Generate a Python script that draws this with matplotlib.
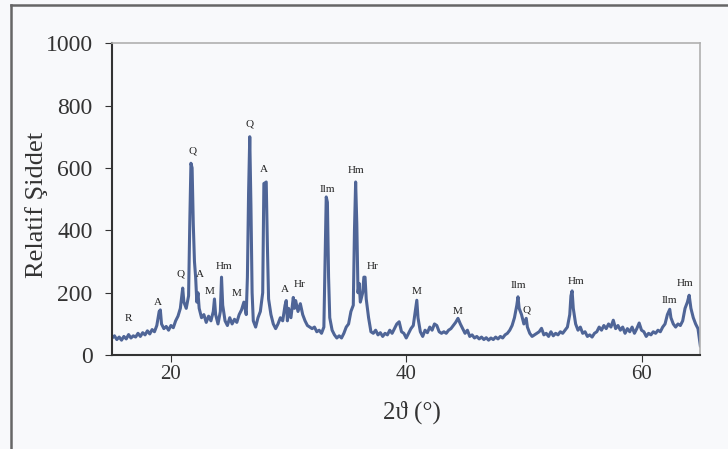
import numpy as np
import matplotlib
matplotlib.use('Agg')
import matplotlib.pyplot as plt
from matplotlib.lines import Line2D

# XRD pattern (2theta, relative intensity)
two_theta = [15.0, 15.2, 15.4, 15.6, 15.8, 16.0, 16.2, 16.4, 16.6, 16.8,
             17.0, 17.2, 17.4, 17.6, 17.8, 18.0, 18.2, 18.4, 18.6, 18.8,
             19.0, 19.1, 19.2, 19.4, 19.6, 19.8, 20.0, 20.2, 20.4, 20.6,
             20.8, 21.0, 21.1, 21.3, 21.5, 21.6, 21.7, 21.8, 21.9, 22.0,
             22.1, 22.2, 22.3, 22.4, 22.6, 22.8, 23.0, 23.2, 23.4, 23.6,
             23.7, 23.8, 24.0, 24.2, 24.3, 24.4, 24.6, 24.8, 25.0, 25.2,
             25.4, 25.6, 25.8, 26.0, 26.2, 26.4, 26.5, 26.6, 26.7, 26.8,
             26.9, 27.0, 27.2, 27.4, 27.6, 27.8, 27.9, 28.0, 28.1, 28.2,
             28.3, 28.5, 28.7, 28.9, 29.1, 29.3, 29.5, 29.7, 29.8, 29.9,
             30.0, 30.2, 30.4, 30.5, 30.6, 30.8, 31.0, 31.2, 31.4, 31.6,
             31.8, 32.0, 32.2, 32.4, 32.6, 32.8, 33.0, 33.1, 33.2, 33.3,
             33.4, 33.5, 33.7, 33.9, 34.1, 34.3, 34.5, 34.7, 34.9, 35.1,
             35.3, 35.5, 35.6, 35.7, 35.8, 35.9, 36.0, 36.1, 36.3, 36.4,
             36.5, 36.6, 36.8, 37.0, 37.2, 37.4, 37.6, 37.8, 38.0, 38.2,
             38.4, 38.6, 38.8, 39.0, 39.2, 39.4, 39.6, 39.8, 40.0, 40.2,
             40.4, 40.6, 40.8, 40.9, 41.0, 41.2, 41.4, 41.6, 41.8, 42.0,
             42.2, 42.4, 42.6, 42.8, 43.0, 43.2, 43.4, 43.6, 43.8, 44.0,
             44.2, 44.4, 44.6, 44.8, 45.0, 45.2, 45.4, 45.6, 45.8, 46.0,
             46.2, 46.4, 46.6, 46.8, 47.0, 47.2, 47.4, 47.6, 47.8, 48.0,
             48.2, 48.4, 48.6, 48.8, 49.0, 49.2, 49.4, 49.5, 49.6, 49.8,
             50.0, 50.2, 50.3, 50.5, 50.7, 50.9, 51.1, 51.3, 51.5, 51.7,
             51.9, 52.1, 52.3, 52.5, 52.7, 52.9, 53.1, 53.3, 53.5, 53.7,
             53.9, 54.0, 54.1, 54.2, 54.4, 54.6, 54.8, 55.0, 55.2, 55.4,
             55.6, 55.8, 56.0, 56.2, 56.4, 56.6, 56.8, 57.0, 57.2, 57.4,
             57.6, 57.8, 58.0, 58.2, 58.4, 58.6, 58.8, 59.0, 59.2, 59.4,
             59.6, 59.8, 60.0, 60.2, 60.4, 60.6, 60.8, 61.0, 61.2, 61.4,
             61.6, 61.8, 62.0, 62.2, 62.4, 62.5, 62.7, 62.9, 63.1, 63.3,
             63.5, 63.7, 63.9, 64.05, 64.2, 64.4, 64.6, 64.8, 65.0]
intensity = [55, 62, 50, 58, 48, 60, 52, 66, 55, 62,
             58, 70, 60, 72, 65, 78, 68, 82, 75, 95,
             140, 145, 100, 85, 92, 80, 95, 88, 110, 125,
             150, 215, 170, 150, 190, 420, 615, 600, 420, 300,
             250, 170, 200, 150, 120, 130, 105, 125, 110, 140,
             180, 130, 100, 140, 250, 160, 110, 95, 120, 100,
             115, 105, 130, 145, 170, 130, 250, 520, 700, 480,
             200, 110, 90, 120, 140, 200, 550, 552, 555, 350,
             180, 130, 100, 85, 100, 120, 110, 160, 175, 110,
             150, 120, 185, 150, 175, 140, 165, 130, 110, 95,
             90, 85, 90, 75, 80, 70, 90, 300, 507, 490,
             250, 120, 80, 65, 55, 62, 55, 70, 90, 100,
             140, 160, 400, 555, 420, 200, 230, 170, 200, 250,
             250, 180, 120, 75, 70, 80, 65, 72, 60, 70,
             65, 80, 70, 85, 100, 107, 75, 70, 55, 70,
             85, 95, 150, 176, 120, 75, 60, 80, 72, 90,
             80, 100, 95, 75, 70, 75, 70, 80, 85, 95,
             105, 118, 100, 85, 70, 80, 60, 65, 55, 60,
             52, 58, 50, 56, 48, 55, 50, 58, 52, 60,
             55, 65, 70, 80, 95, 120, 160, 187, 150, 130,
             100, 118, 90, 70, 60, 65, 70, 75, 86, 65,
             70, 60, 75, 62, 70, 65, 75, 70, 80, 90,
             130, 190, 206, 150, 100, 80, 90, 70, 75, 60,
             65, 58, 70, 75, 90, 80, 95, 85, 100, 90,
             112, 85, 95, 80, 90, 70, 85, 75, 90, 70,
             85, 103, 80, 75, 60, 70, 65, 75, 70, 80,
             75, 90, 100, 130, 147, 120, 100, 90, 100, 95,
             110, 150, 170, 192, 150, 120, 100, 85, 30]

# phase labels
lab_text = ['R', 'A', 'Q', 'Q', 'A', 'M', 'Hm', 'M', 'Q', 'A', 'A', 'Hr',
            'Ilm', 'Hm', 'Hr', 'M', 'M', 'Ilm', 'Q', 'Hm', 'Ilm', 'Hm']
lab_x = [16.4, 18.9, 20.8, 21.85, 22.5, 23.3, 24.5, 25.6, 26.65, 27.9, 29.7, 30.9,
         33.25, 35.7, 37.1, 40.85, 44.4, 49.5, 50.2, 54.4, 62.4, 63.7]
lab_y = [118, 170, 260, 655, 260, 205, 285, 198, 740, 595, 210, 225,
         532, 593, 285, 205, 141, 224, 144, 237, 176, 231]

serif = ['Liberation Serif', 'DejaVu Serif']
plt.rcParams['font.family'] = serif

fig = plt.figure(figsize=(7.28, 4.49), dpi=100)
fig.patch.set_facecolor('#f8f9fb')
ax = fig.add_axes([0.154, 0.209, 0.808, 0.695])
ax.set_facecolor('#f8f9fb')

ax.plot(two_theta, intensity, color='#4f6597', lw=2.2)

for t, x, y in zip(lab_text, lab_x, lab_y):
    ax.text(x, y, t, fontsize=8, ha='center', va='center', color='#222222')

ax.set_xlim(15, 65)
ax.set_ylim(0, 1000)
ax.set_xticks([20, 40, 60])
ax.set_yticks(np.arange(0, 1001, 200))
ax.tick_params(axis='both', colors='#333333', direction='out', length=5)
ax.tick_params(axis='x', labelsize=15, pad=2)
ax.tick_params(axis='y', labelsize=17, pad=9)

for s in ['top', 'right']:
    ax.spines[s].set_color('#b0b0b0')
    ax.spines[s].set_linewidth(1.2)
for s in ['left', 'bottom']:
    ax.spines[s].set_color('#333333')
    ax.spines[s].set_linewidth(1.5)

ax.set_ylabel('Relatif Şiddet', fontsize=19, color='#333333')
ax.yaxis.set_label_coords(-0.109, 0.48)
ax.set_xlabel('2ϑ (°)', fontsize=18, color='#333333')
ax.xaxis.set_label_coords(0.51, -0.145)

# outer frame (top and left only)
fig.add_artist(Line2D([11/728, 1], [1-5/449, 1-5/449], color='#666666', lw=1.8))
fig.add_artist(Line2D([11/728, 11/728], [0, 1-5/449], color='#666666', lw=1.8))

fig.savefig('out.png', dpi=100, facecolor=fig.get_facecolor())
